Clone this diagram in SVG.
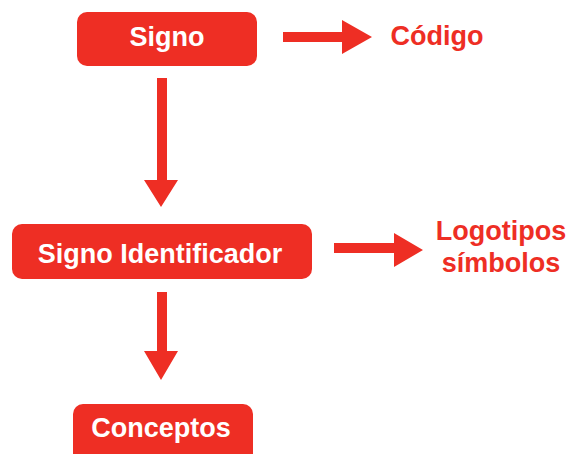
<svg xmlns="http://www.w3.org/2000/svg" width="569" height="454" viewBox="0 0 569 454">
<style>
.box{fill:#EE2E24;}
.wt{fill:#FFFFFF;font-family:"Liberation Sans",Arial,sans-serif;font-weight:bold;font-size:27px;text-anchor:middle;}
.rt{fill:#EE2E24;font-family:"Liberation Sans",Arial,sans-serif;font-weight:bold;font-size:27px;text-anchor:middle;}
.arr{fill:#EE2E24;}
</style>
<rect width="569" height="454" fill="#FFFFFF"/>
<g id="signo">
<rect class="box" x="77" y="12" width="180" height="54" rx="10"/>
<text class="wt" x="167" y="46">Signo</text>
</g>
<g id="codigo">
<text class="rt" x="437" y="45">Código</text>
</g>
<g id="signo-identificador">
<rect class="box" x="12" y="224" width="300" height="55" rx="10"/>
<text class="wt" x="160" y="263">Signo Identificador</text>
</g>
<g id="logotipos">
<text class="rt" x="501" y="240">Logotipos</text>
<text class="rt" x="501" y="272">símbolos</text>
</g>
<g id="conceptos">
<rect class="box" x="73" y="404" width="180" height="60" rx="10"/>
<text class="wt" x="161" y="437">Conceptos</text>
</g>
<g id="connectors">
<polygon class="arr" points="283,32 342,32 342,20 372,37 342,54 342,42 283,42"/>
<polygon class="arr" points="157,78 167,78 167,180 178,180 161,207 144,180 157,180"/>
<polygon class="arr" points="334,243 394,243 394,233 423,250 394,267 394,253 334,253"/>
<polygon class="arr" points="157,292 167,292 167,351 178,351 161,380 144,351 157,351"/>
</g>
</svg>
